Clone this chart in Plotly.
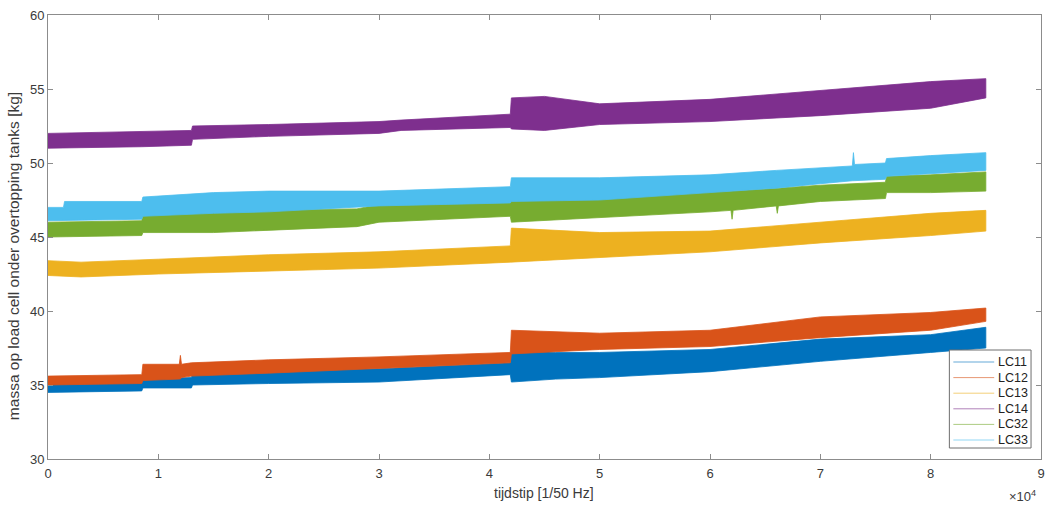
import plotly.graph_objects as go

# ---- data (envelopes) ----
names = ["LC11", "LC12", "LC13", "LC14", "LC32", "LC33"]
colors = ["#0072BD", "#D95319", "#EDB120", "#7E2F8E", "#77AC30", "#4DBEEE"]

lc11_x = [0, 8500, 8600, 13000, 13100, 20000, 30000, 41900, 42000, 46000, 50000, 60000, 70000, 80000, 85000]
lc11_up = [35.1, 35.2, 35.4, 35.5, 35.8, 36.0, 36.1, 36.5, 37.4, 37.2, 37.2, 37.4, 38.1, 38.4, 38.9]
lc11_lo = [34.5, 34.6, 34.8, 34.8, 35.0, 35.1, 35.2, 35.7, 35.2, 35.4, 35.5, 35.9, 36.6, 37.2, 37.5]

lc12_x = [0, 8500, 8600, 11900, 12000, 12100, 13000, 20000, 30000, 41900, 42000, 50000, 60000, 70000, 80000, 85000]
lc12_up = [35.6, 35.7, 36.4, 36.4, 37.0, 36.4, 36.5, 36.7, 36.9, 37.2, 38.7, 38.5, 38.7, 39.6, 39.9, 40.2]
lc12_lo = [35.0, 35.1, 35.3, 35.4, 35.4, 35.5, 35.6, 35.8, 36.1, 36.5, 37.1, 37.4, 37.6, 38.2, 38.7, 39.3]

lc13_x = [0, 3000, 10000, 20000, 30000, 41900, 42000, 50000, 60000, 70000, 80000, 85000]
lc13_up = [43.4, 43.3, 43.5, 43.8, 44.0, 44.4, 45.6, 45.3, 45.4, 46.0, 46.6, 46.8]
lc13_lo = [42.4, 42.3, 42.5, 42.7, 42.9, 43.3, 43.3, 43.6, 44.0, 44.6, 45.1, 45.4]

lc14_x = [0, 8500, 13000, 13100, 20000, 30000, 32000, 41900, 42000, 45000, 50000, 60000, 70000, 80000, 85000]
lc14_up = [52.0, 52.1, 52.2, 52.5, 52.6, 52.8, 52.9, 53.3, 54.4, 54.5, 54.0, 54.3, 54.9, 55.5, 55.7]
lc14_lo = [51.0, 51.1, 51.2, 51.6, 51.8, 52.0, 52.2, 52.4, 52.3, 52.2, 52.6, 52.8, 53.2, 53.7, 54.4]

lc32_x = [0, 8500, 8600, 15000, 28000, 30000, 41900, 42000, 50000, 60000, 61900, 62000, 62100,
          66000, 66100, 66200, 70000, 75900, 76000, 80000, 85000]
lc32_up = [46.0, 46.1, 46.5, 46.8, 46.9, 47.2, 47.4, 47.8, 47.7, 48.0, 48.1, 48.1, 48.1,
           48.3, 48.3, 48.3, 48.5, 48.7, 49.1, 49.2, 49.4]
lc32_lo = [45.0, 45.1, 45.3, 45.3, 45.7, 46.0, 46.4, 46.0, 46.3, 46.7, 46.8, 46.2, 46.8,
           47.1, 46.6, 47.1, 47.4, 47.6, 48.0, 48.0, 48.1]

lc33_x = [0, 1400, 1500, 8500, 8600, 15000, 20000, 30000, 41900, 42000, 50000, 60000, 66000,
          70000, 72900, 73000, 73100, 75900, 76000, 80000, 85000]
lc33_up = [47.0, 47.0, 47.4, 47.4, 47.7, 48.0, 48.1, 48.1, 48.4, 49.0, 49.0, 49.2, 49.5,
           49.7, 49.8, 50.7, 49.9, 50.0, 50.3, 50.5, 50.7]
lc33_lo = [46.1, 46.1, 46.1, 46.2, 46.4, 46.6, 46.7, 47.1, 47.3, 47.4, 47.5, 48.0, 48.3,
           48.6, 48.8, 48.8, 48.8, 48.9, 49.1, 49.3, 49.5]

x_tickvals = [0, 10000, 20000, 30000, 40000, 50000, 60000, 70000, 80000, 90000]
x_ticktext = ["0", "1", "2", "3", "4", "5", "6", "7", "8", "9"]
y_tickvals = [30, 35, 40, 45, 50, 55, 60]

series = [
    (lc11_x, lc11_up, lc11_lo),
    (lc12_x, lc12_up, lc12_lo),
    (lc13_x, lc13_up, lc13_lo),
    (lc14_x, lc14_up, lc14_lo),
    (lc32_x, lc32_up, lc32_lo),
    (lc33_x, lc33_up, lc33_lo),
]

W, H = 1053, 508
ML, MR, MT, MB = 48, 8, 15, 49
PW, PH = W - ML - MR, H - MT - MB


def px(xp):
    return (xp - ML) / PW


def py(yp):
    return (H - MB - yp) / PH


fig = go.Figure()
for name, col, (xs, up, lo) in zip(names, colors, series):
    fig.add_trace(go.Scatter(
        x=list(xs) + list(xs[::-1]), y=list(up) + list(lo[::-1]),
        mode="lines", fill="toself", fillcolor=col, name=name,
        line=dict(color=col, width=0.8), showlegend=False, hoverinfo="skip",
    ))

axis_col = "#8c8c8c"
txt_col = "#3a3a3a"

# custom MATLAB-style legend box
shapes = [dict(type="rect", xref="paper", yref="paper",
               x0=px(953), x1=px(1035), y0=py(448), y1=py(350),
               fillcolor="white", line=dict(color="#6e6e6e", width=1), layer="above")]
annotations = []
for i, (name, col) in enumerate(zip(names, colors)):
    yy = 362 + i * 15.6
    shapes.append(dict(type="line", xref="paper", yref="paper",
                       x0=px(957), x1=px(998), y0=py(yy), y1=py(yy),
                       line=dict(color=col, width=1), opacity=0.6, layer="above"))
    annotations.append(dict(text=name, xref="paper", yref="paper", x=px(1000), y=py(yy),
                            xanchor="left", yanchor="middle", showarrow=False,
                            font=dict(size=12.5, color="#222")))

annotations += [
    dict(text="massa op load cell onder overtopping tanks [kg]", xref="paper", yref="paper",
         x=px(13), y=py(256), textangle=-90, showarrow=False, xanchor="center", yanchor="middle",
         font=dict(size=15.5, color=txt_col)),
    dict(text="tijdstip [1/50 Hz]", xref="paper", yref="paper", x=px(546), y=py(493),
         showarrow=False, xanchor="center", yanchor="middle", font=dict(size=14, color=txt_col)),
    dict(text="×10<sup>4</sup>", xref="paper", yref="paper", x=px(1042), y=py(496),
         showarrow=False, xanchor="right", yanchor="middle", font=dict(size=13, color=txt_col)),
]

fig.update_layout(
    width=W, height=H,
    margin=dict(l=ML, r=MR, t=MT, b=MB),
    paper_bgcolor="white", plot_bgcolor="white",
    font=dict(family="Liberation Sans, Arial, sans-serif", size=13, color=txt_col),
    showlegend=False,
    xaxis=dict(range=[0, 90000], tickvals=x_tickvals, ticktext=x_ticktext,
               showgrid=False, zeroline=False, showline=True, linecolor=axis_col,
               linewidth=1, mirror="ticks", ticks="inside", ticklen=5, tickcolor=axis_col,
               ticklabelstandoff=2,
               tickfont=dict(size=13, color=txt_col)),
    yaxis=dict(range=[30, 60], tickvals=y_tickvals,
               showgrid=False, zeroline=False, showline=True, linecolor=axis_col,
               linewidth=1, mirror="ticks", ticks="inside", ticklen=5, tickcolor=axis_col,
               tickfont=dict(size=13, color=txt_col)),
    shapes=shapes,
    annotations=annotations,
)

fig.write_html("out.html")
